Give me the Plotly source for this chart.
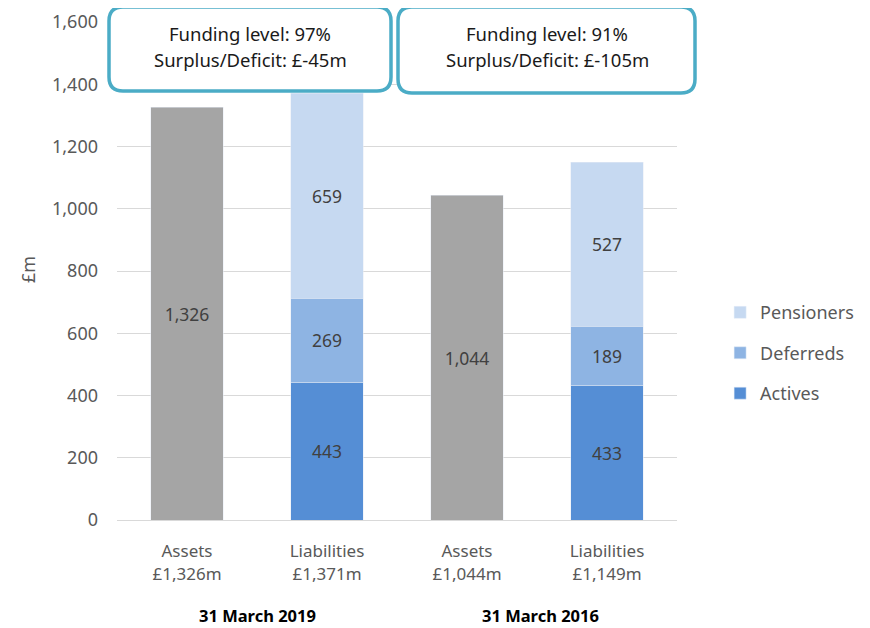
import plotly.graph_objects as go

categories = ["Assets<br>£1,326m", "Liabilities<br>£1,371m", "Assets<br>£1,044m", "Liabilities<br>£1,149m"]
assets = [1326, None, 1044, None]
actives = [None, 443, None, 433]
deferreds = [None, 269, None, 189]
pensioners = [None, 659, None, 527]
group_labels = ["31 March 2019", "31 March 2016"]
box_line1 = ["Funding level: 97%", "Funding level: 91%"]
box_line2 = ["Surplus/Deficit: £-45m", "Surplus/Deficit: £-105m"]
y_title = "£m"
y_ticks = [0, 200, 400, 600, 800, 1000, 1200, 1400, 1600]

FONT = "Noto Sans"
OFF = 8  # page body margin
W, H = 870 - OFF, 628 - OFF
L, T = 117 - OFF, 22 - OFF
PB = 520 - OFF
PR = 677 - OFF
R, B = W - PR, H - PB
PW, PH = PR - L, PB - T

def px_x(x):
    return (x - OFF - L) / PW

def px_y(y):
    return (PB - (y - OFF)) / PH

def rounded_rect(x0, y0, x1, y1, r):
    X = px_x
    Y = px_y
    return (f"M {X(x0+r)} {Y(y0)} L {X(x1-r)} {Y(y0)} Q {X(x1)} {Y(y0)} {X(x1)} {Y(y0+r)} "
            f"L {X(x1)} {Y(y1-r)} Q {X(x1)} {Y(y1)} {X(x1-r)} {Y(y1)} "
            f"L {X(x0+r)} {Y(y1)} Q {X(x0)} {Y(y1)} {X(x0)} {Y(y1-r)} "
            f"L {X(x0)} {Y(y0+r)} Q {X(x0)} {Y(y0)} {X(x0+r)} {Y(y0)} Z")

fig = go.Figure()
lbl = dict(color="#404040", size=17.5, family=FONT)
common = dict(texttemplate="%{y:,}", textposition="inside", insidetextanchor="middle",
              textfont=lbl, hoverinfo="skip")
fig.add_trace(go.Bar(x=categories, y=assets, marker_color="#a5a5a5", showlegend=False,
                     name="Assets", **common))
fig.add_trace(go.Bar(x=categories, y=actives, marker_color="#558ed5", name="Actives",
                     legendgroup="a", legendrank=3, **common))
fig.add_trace(go.Bar(x=categories, y=deferreds, marker_color="#8eb4e3", name="Deferreds",
                     legendgroup="d", legendrank=2, **common))
fig.add_trace(go.Bar(x=categories, y=pensioners, marker_color="#c6d9f1", name="Pensioners",
                     legendgroup="p", legendrank=1, **common))

shapes = [
    dict(type="path", xref="paper", yref="paper", path=rounded_rect(109, 7, 391, 91, 14),
         line=dict(color="#4bacc6", width=3.5), fillcolor="white", layer="above"),
    dict(type="path", xref="paper", yref="paper", path=rounded_rect(398, 7, 695, 93, 14),
         line=dict(color="#4bacc6", width=3.5), fillcolor="white", layer="above"),
]
ann_common = dict(xref="paper", yref="paper", showarrow=False, xanchor="center", yanchor="middle")
box_font = dict(size=18.5, color="#1a1a1a", family=FONT)
annotations = [
    dict(x=px_x(250), y=px_y(33), text=box_line1[0], font=box_font, **ann_common),
    dict(x=px_x(250), y=px_y(60), text=box_line2[0], font=box_font, **ann_common),
    dict(x=px_x(547), y=px_y(33), text=box_line1[1], font=box_font, **ann_common),
    dict(x=px_x(547), y=px_y(60), text=box_line2[1], font=box_font, **ann_common),
    dict(x=px_x(257), y=px_y(615), text=f"<b>{group_labels[0]}</b>",
         font=dict(size=16.5, color="#000000", family=FONT), **ann_common),
    dict(x=px_x(540), y=px_y(615), text=f"<b>{group_labels[1]}</b>",
         font=dict(size=16.5, color="#000000", family=FONT), **ann_common),
    dict(x=px_x(28), y=px_y(270), text=y_title, textangle=-90,
         font=dict(size=18, color="#595959", family=FONT), **ann_common),
]

fig.update_layout(
    width=W, height=H, margin=dict(l=L, r=R, t=T, b=B, autoexpand=False),
    barmode="stack", bargap=0.48,
    plot_bgcolor="white", paper_bgcolor="white",
    font=dict(family=FONT, color="#595959", size=16),
    shapes=shapes, annotations=annotations,
    legend=dict(x=1.077, y=0.335, xanchor="left", yanchor="middle", traceorder="grouped",
                tracegroupgap=14, font=dict(size=18, color="#595959", family=FONT)),
)
fig.update_yaxes(range=[0, 1600], tickvals=y_ticks, tickformat=",", showgrid=True,
                 gridcolor="#d9d9d9", gridwidth=1, zeroline=False, showline=False,
                 ticks="", ticklabelstandoff=18,
                 tickfont=dict(size=18, color="#595959"))
fig.update_xaxes(showline=True, linecolor="#d9d9d9", linewidth=1, ticks="",
                 tickfont=dict(size=17, color="#595959"), ticklabelstandoff=16)

fig.write_html("out.html")
